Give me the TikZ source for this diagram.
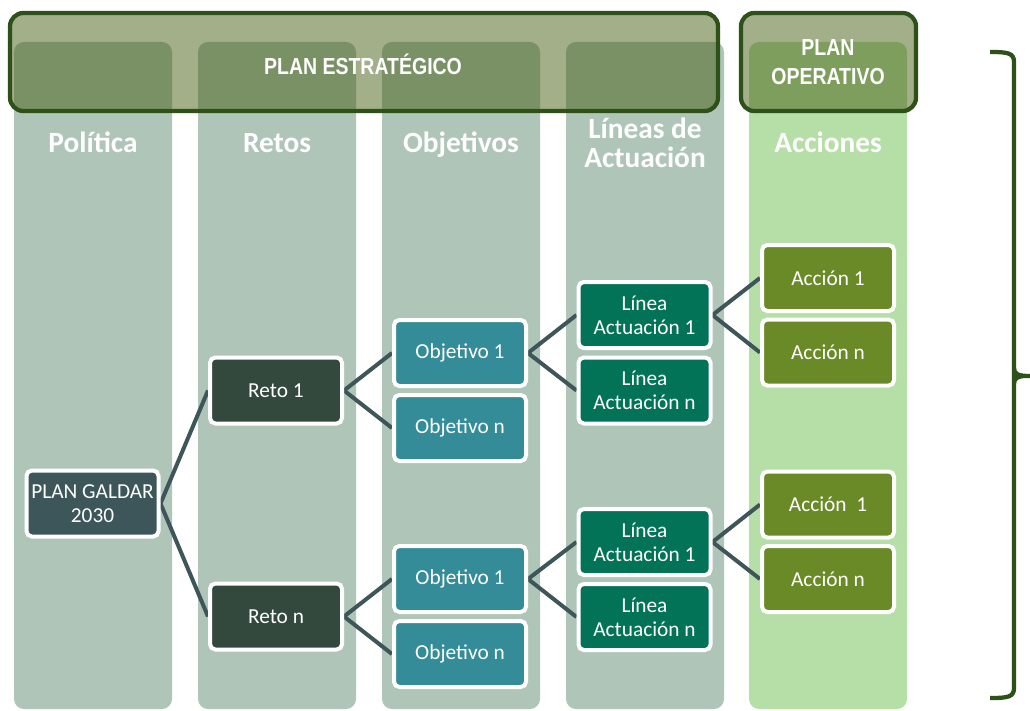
\documentclass[tikz,border=0pt]{standalone}
\usepackage{fontspec}
\setmainfont{Carlito}
\newfontfamily\hdrfont[FakeStretch=0.84]{Liberation Sans}
\usetikzlibrary{positioning}
\definecolor{colbg}{HTML}{AFC5B8}
\definecolor{accbg}{HTML}{B6DFA8}
\definecolor{planfill}{HTML}{475F13}
\definecolor{planborder}{HTML}{2D5119}
\definecolor{linkc}{HTML}{3E565A}
\definecolor{galdarc}{HTML}{3D565A}
\definecolor{retoc}{HTML}{34493D}
\definecolor{objc}{HTML}{348C99}
\definecolor{lineac}{HTML}{027356}
\definecolor{accionc}{HTML}{6A8A27}
\pgfdeclarelayer{bg}
\pgfdeclarelayer{links}
\pgfsetlayers{bg,links,main}
\tikzset{
  colbox/.style={fill=colbg, rounded corners=7.5pt},
  planbox/.style={fill=planfill, fill opacity=0.5, draw=planborder, draw opacity=1, line width=3.2pt, rounded corners=10pt},
  hdr/.style={text=white, font=\bfseries\fontsize{22}{22}\selectfont, align=center, inner sep=0},
  plantxt/.style={text=white, font=\hdrfont\bfseries\fontsize{17.4}{21.5}\selectfont, align=center, inner sep=0},
  itembox/.style={draw=white, line width=3pt, rounded corners=4pt, minimum width=99pt, minimum height=49.5pt, inner sep=0, text=white, align=center, font=\fontsize{16}{18}\selectfont},
  link/.style={draw=linkc, line width=3pt},
}
\begin{document}
\begin{tikzpicture}[x=0.75pt,y=-0.75pt]
\useasboundingbox (0,0) rectangle (1030,710);
% columns
\begin{pgfonlayer}{bg}
\fill[colbox] (14,42) rectangle (172,709);
\fill[colbox] (198,42) rectangle (356,709);
\fill[colbox] (382,42) rectangle (540,709);
\fill[colbox] (566,42) rectangle (724,709);
\fill[colbox,fill=accbg] (749,42) rectangle (907,709);
\end{pgfonlayer}
% plan boxes
\path[planbox] (10,13) rectangle (718,111);
\path[planbox] (741,13) rectangle (916,111);
\node[plantxt] (pe) at (363,64) {PLAN ESTRATÉGICO};
\node[plantxt] (po) at (828,62) {PLAN\\OPERATIVO};
% column headers
\node[hdr,anchor=base] (hpol) at (93,152) {Política};
\node[hdr,anchor=base] (hret) at (277,152) {Retos};
\node[hdr,anchor=base] (hobj) at (461,152) {Objetivos};
\node[hdr] (hlin) at (645,143) {Líneas de\\Actuación};
\node[hdr,anchor=base] (hacc) at (828,152) {Acciones};
% nodes
\node[itembox,fill=galdarc] (galdar) at (92.5,503.5) {PLAN GALDAR\\2030};
\node[itembox,fill=retoc] (reto1) at (276,390.5) {Reto 1};
\node[itembox,fill=retoc] (reton) at (276,616.5) {Reto n};
\node[itembox,fill=objc] (oa1) at (460,353) {Objetivo 1};
\node[itembox,fill=objc] (oan) at (460,428) {Objetivo n};
\node[itembox,fill=objc] (ob1) at (460,579) {Objetivo 1};
\node[itembox,fill=objc] (obn) at (460,654) {Objetivo n};
\node[itembox,fill=lineac] (la1) at (644.5,315) {Línea\\Actuación 1};
\node[itembox,fill=lineac] (lan) at (644.5,390.5) {Línea\\Actuación n};
\node[itembox,fill=lineac] (lb1) at (644.5,542) {Línea\\Actuación 1};
\node[itembox,fill=lineac] (lbn) at (644.5,617) {Línea\\Actuación n};
\node[itembox,fill=accionc] (aa1) at (828,278) {Acción 1};
\node[itembox,fill=accionc] (aan) at (828,352.5) {Acción n};
\node[itembox,fill=accionc] (ab1) at (828,504.5) {Acción\ \ 1};
\node[itembox,fill=accionc] (abn) at (828,579) {Acción n};
% links
\begin{pgfonlayer}{links}
\draw[link] (galdar.east) -- (reto1.west);
\draw[link] (galdar.east) -- (reton.west);
\draw[link] (reto1.east) -- (oa1.west);
\draw[link] (reto1.east) -- (oan.west);
\draw[link] (reton.east) -- (ob1.west);
\draw[link] (reton.east) -- (obn.west);
\draw[link] (oa1.east) -- (la1.west);
\draw[link] (oa1.east) -- (lan.west);
\draw[link] (ob1.east) -- (lb1.west);
\draw[link] (ob1.east) -- (lbn.west);
\draw[link] (la1.east) -- (aa1.west);
\draw[link] (la1.east) -- (aan.west);
\draw[link] (lb1.east) -- (ab1.west);
\draw[link] (lb1.east) -- (abn.west);
\end{pgfonlayer}
% brace
\coordinate (btop) at (990,52);
\coordinate (bmid) at (1030,376);
\coordinate (bbot) at (990,698);
\draw[draw=planborder, line width=3.2pt]
  (btop) .. controls (1008,52) and (1014,53) .. (1014,62)
  -- (1014,368) .. controls (1014,374) and (1018,376) .. (bmid)
  (1014,368) -- (1014,384) .. controls (1014,378) and (1018,376) .. (1026,376)
  (1014,384) -- (1014,688) .. controls (1014,697) and (1008,698) .. (bbot);
\end{tikzpicture}
\end{document}
